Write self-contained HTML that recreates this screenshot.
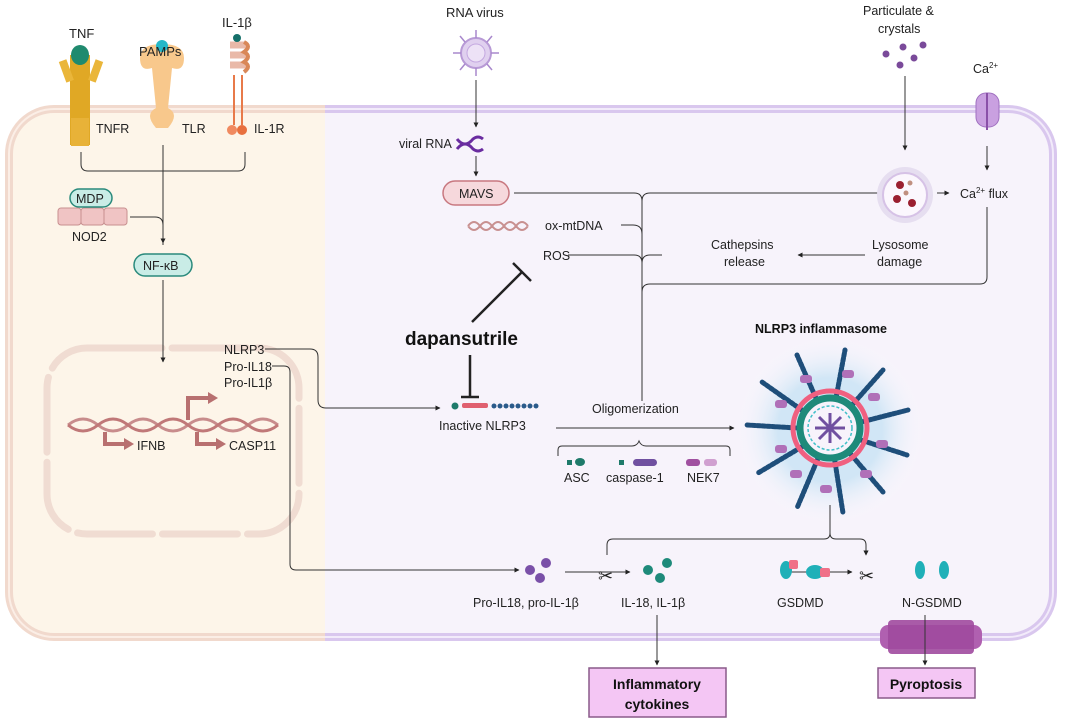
<!DOCTYPE html>
<html><head><meta charset="utf-8"><style>
html,body{margin:0;padding:0;background:#fff;}
svg{display:block;font-family:"Liberation Sans",sans-serif;}
text{fill:#222;}
</style></head><body>
<svg width="1065" height="722" viewBox="0 0 1065 722" xmlns="http://www.w3.org/2000/svg" font-size="12.5">
<defs>
<marker id="a" viewBox="0 0 10 10" refX="9" refY="5" markerWidth="5" markerHeight="5" orient="auto"><path d="M0,0L10,5L0,10z" fill="#222"/></marker>
<clipPath id="cl"><rect x="0" y="0" width="325" height="722"/></clipPath>
<clipPath id="cr"><rect x="325" y="0" width="740" height="722"/></clipPath>
<radialGradient id="glow"><stop offset="0.55" stop-color="#a8d8f0" stop-opacity="0.8"/><stop offset="1" stop-color="#fff" stop-opacity="0"/></radialGradient>
</defs>
<g clip-path="url(#cr)">
<rect x="9" y="109" width="1044" height="528" rx="45" fill="#f7f3fb" stroke="#d9c7ee" stroke-width="8"/>
<rect x="9" y="109" width="1044" height="528" rx="45" fill="none" stroke="#f2ebfa" stroke-width="2"/>
</g>
<g clip-path="url(#cl)">
<rect x="9" y="109" width="1044" height="528" rx="45" fill="#fdf5e9" stroke="#f1d9cd" stroke-width="8"/>
<rect x="9" y="109" width="1044" height="528" rx="45" fill="none" stroke="#fbeee6" stroke-width="2"/>
</g>
<rect x="47" y="348" width="252" height="186" rx="40" fill="none" stroke="#f0dcd2" stroke-width="7" stroke-dasharray="75 10" stroke-linecap="round"/>

<g>
<rect x="70" y="55" width="20" height="90" fill="#e0a825"/>
<rect x="62" y="60" width="8" height="22" fill="#eab63a" transform="rotate(-20 66 70)"/>
<rect x="92" y="60" width="8" height="22" fill="#eab63a" transform="rotate(20 96 70)"/>
<ellipse cx="80" cy="55" rx="9" ry="10" fill="#1f8a6e"/>
<rect x="71" y="118" width="18" height="28" fill="#e8b238"/>
</g>
<g>
<path d="M140 58 q0-14 22-14 q22 0 22 14 q0 14-12 10 l-4 40 q12 6 0 20 h-12 q-12-14 0-20 l-4-40 q-12 4-12-10z" fill="#f8c88c"/>
<circle cx="162" cy="46" r="6" fill="#25b8c8"/>
</g>
<g>
<path d="M230 45 h16 M230 55 h16 M230 65 h16" stroke="#e9b9a8" stroke-width="7" fill="none"/>
<path d="M244 42 q8 4 0 10 q8 4 0 10 q8 4 0 10" stroke="#d98858" stroke-width="4" fill="none"/>
<line x1="234" y1="75" x2="234" y2="125" stroke="#e87a4a" stroke-width="2"/>
<line x1="242" y1="75" x2="242" y2="125" stroke="#e87a4a" stroke-width="2"/>
<circle cx="232" cy="130" r="5" fill="#f08a60"/><circle cx="242" cy="130" r="5" fill="#e8703f"/>
<circle cx="237" cy="38" r="4" fill="#15706a"/>
</g>
<text x="69" y="38" font-size="13">TNF</text>
<text x="139" y="56" font-size="13">PAMPs</text>
<text x="222" y="27" font-size="13">IL-1β</text>
<text x="96" y="133">TNFR</text><text x="182" y="133">TLR</text><text x="254" y="133">IL-1R</text>

<path d="M81 152 v12 q0 7 7 7 h150 q7 0 7-7 v-12 M163 145 v100" stroke="#333" fill="none" stroke-width="1"/>
<path d="M163 230 v13" stroke="#333" marker-end="url(#a)"/>
<path d="M130 217 h25 q8 0 8 8" stroke="#333" fill="none"/>
<rect x="58" y="208" width="23" height="17" rx="3" fill="#f0c4c4" stroke="#c89090"/>
<rect x="81" y="208" width="23" height="17" rx="3" fill="#f0c4c4" stroke="#c89090"/>
<rect x="104" y="208" width="23" height="17" rx="3" fill="#f0c4c4" stroke="#c89090"/>
<rect x="70" y="189" width="42" height="18" rx="9" fill="#c9ece6" stroke="#2a8a7c" stroke-width="1.5"/>
<text x="76" y="203">MDP</text>
<text x="72" y="241">NOD2</text>
<rect x="134" y="254" width="58" height="22" rx="11" fill="#c9ece6" stroke="#2a8a7c" stroke-width="1.5"/>
<text x="143" y="270">NF-κB</text>
<path d="M163 280 v82" stroke="#333" marker-end="url(#a)"/>

<path d="M68 425 q15 -12 30 0 t30 0 t30 0 t30 0 t30 0 t30 0 t30 0" stroke="#c88c8c" stroke-width="3" fill="none"/>
<path d="M68 425 q15 12 30 0 t30 0 t30 0 t30 0 t30 0 t30 0 t30 0" stroke="#c07878" stroke-width="3" fill="none"/>
<path d="M188 420 v-22 h22" stroke="#b87070" stroke-width="4" fill="none"/><path d="M208 392 l10 6 l-10 6z" fill="#b87070"/>
<path d="M105 432 v12 h20" stroke="#b87070" stroke-width="4" fill="none"/><path d="M124 438 l10 6 l-10 6z" fill="#b87070"/>
<path d="M197 432 v12 h20" stroke="#b87070" stroke-width="4" fill="none"/><path d="M216 438 l10 6 l-10 6z" fill="#b87070"/>
<text x="224" y="354">NLRP3</text><text x="224" y="371">Pro-IL18</text><text x="224" y="387">Pro-IL1β</text>
<text x="137" y="450">IFNB</text><text x="229" y="450">CASP11</text>
<path d="M265 349 h45 q8 0 8 8 v43 q0 8 8 8 h114" stroke="#333" fill="none" marker-end="url(#a)"/>
<path d="M272 366 h12 q6 0 6 6 v192 q0 6 6 6 h223" stroke="#333" fill="none" marker-end="url(#a)"/>

<text x="446" y="17" font-size="13">RNA virus</text>
<circle cx="476" cy="53" r="15" fill="#e0d0ef" stroke="#b89ad6" stroke-width="2"/>
<circle cx="476" cy="53" r="9" fill="#ede2f6" stroke="#c4a8e0"/>
<g stroke="#a888cc" stroke-width="1.5"><line x1="476" y1="38" x2="476" y2="30"/><line x1="476" y1="68" x2="476" y2="76"/><line x1="461" y1="53" x2="453" y2="53"/><line x1="491" y1="53" x2="499" y2="53"/><line x1="465" y1="42" x2="460" y2="36"/><line x1="487" y1="42" x2="492" y2="36"/><line x1="465" y1="64" x2="460" y2="70"/><line x1="487" y1="64" x2="492" y2="70"/></g>
<path d="M476 80 v47" stroke="#333" marker-end="url(#a)"/>
<text x="399" y="148">viral RNA</text>
<path d="M457 139 q8 10 16 0 q5-4 10 0 M457 149 q8-10 16 0 q5 4 10 0" stroke="#6a2ca0" stroke-width="3" fill="none"/>
<path d="M476 156 v20" stroke="#333" marker-end="url(#a)"/>
<rect x="443" y="181" width="66" height="24" rx="12" fill="#f6d8dc" stroke="#c87880" stroke-width="1.5"/>
<text x="459" y="198">MAVS</text>
<path d="M468 226 q6-8 12 0 t12 0 t12 0 t12 0 t12 0 M468 226 q6 8 12 0 t12 0 t12 0 t12 0 t12 0" stroke="#c89090" stroke-width="2" fill="none"/>
<text x="545" y="230">ox-mtDNA</text>
<text x="543" y="260">ROS</text>

<path d="M514 193 h120 q8 0 8 8 M642 201 q0-8 8-8 h275" stroke="#333" fill="none"/>
<path d="M621 225 h12 q9 0 9 9 M568 255 h66 q8 0 8 8 M642 263 q0-8 8-8 h12" stroke="#333" fill="none"/>
<path d="M642 201 v200" stroke="#333" fill="none"/>
<path d="M642 292 q0-8 8-8 h330 q7 0 7-7 v-70" stroke="#333" fill="none"/>
<path d="M865 255 h-67" stroke="#333" marker-end="url(#a)"/>
<text x="711" y="249">Cathepsins</text><text x="724" y="266">release</text>
<text x="872" y="249">Lysosome</text><text x="877" y="266">damage</text>
<text x="863" y="15">Particulate &amp;</text><text x="878" y="33">crystals</text>
<g fill="#7a4a9a"><circle cx="886" cy="54" r="3.5"/><circle cx="903" cy="47" r="3.5"/><circle cx="923" cy="45" r="3.5"/><circle cx="914" cy="58" r="3.5"/><circle cx="900" cy="65" r="3.5"/></g>
<path d="M905 76 v74" stroke="#333" marker-end="url(#a)"/>
<circle cx="905" cy="195" r="28" fill="#e6def0"/>
<circle cx="905" cy="195" r="22" fill="#fbf7fd" stroke="#d6c2e6" stroke-width="2"/>
<g fill="#9a2030"><circle cx="900" cy="185" r="4"/><circle cx="897" cy="199" r="4"/><circle cx="912" cy="203" r="4"/><circle cx="910" cy="183" r="2.5" fill="#c09080"/><circle cx="906" cy="193" r="2.5" fill="#c09080"/></g>
<path d="M937 193 h12" stroke="#333" marker-end="url(#a)"/>
<text x="960" y="198">Ca<tspan font-size="8" dy="-5">2+</tspan><tspan dy="5"> flux</tspan></text>
<text x="973" y="73">Ca<tspan font-size="8" dy="-5">2+</tspan></text>
<rect x="976" y="93" width="23" height="34" rx="10" fill="#c9a0e0" stroke="#a070c0"/>
<line x1="987" y1="93" x2="987" y2="130" stroke="#8a50a8" stroke-width="2"/>
<path d="M987 146 v24" stroke="#333" marker-end="url(#a)"/>

<path d="M472 322 L522 272" stroke="#222" stroke-width="2.5"/>
<path d="M513 263 L531 281" stroke="#222" stroke-width="2.5"/>
<text x="405" y="345" font-size="19" font-weight="bold" style="fill:#111">dapansutrile</text>
<path d="M470 355 v42 M461 397 h18" stroke="#222" stroke-width="2.5"/>
<circle cx="455" cy="406" r="3.5" fill="#1e7a6a"/>
<rect x="462" y="403" width="26" height="5" rx="2" fill="#e06070"/>
<g fill="#2a5a8a"><circle cx="494" cy="406" r="2.5"/><circle cx="500" cy="406" r="2.5"/><circle cx="506" cy="406" r="2.5"/><circle cx="512" cy="406" r="2.5"/><circle cx="518" cy="406" r="2.5"/><circle cx="524" cy="406" r="2.5"/><circle cx="530" cy="406" r="2.5"/><circle cx="536" cy="406" r="2.5"/></g>
<text x="439" y="430">Inactive NLRP3</text>
<text x="592" y="413">Oligomerization</text>
<path d="M556 428 h178" stroke="#333" marker-end="url(#a)"/>
<path d="M558 456 v-6 q0-4 4-4 h70 q5 0 7-5 q2 5 7 5 h80 q4 0 4 4 v6" stroke="#333" fill="none"/>
<rect x="567" y="460" width="5" height="5" fill="#1e7a6a"/><ellipse cx="580" cy="462" rx="5" ry="4" fill="#1e7a6a"/>
<rect x="619" y="460" width="5" height="5" fill="#1e7a6a"/><rect x="633" y="459" width="24" height="7" rx="3.5" fill="#7050a0"/>
<rect x="686" y="459" width="14" height="7" rx="3" fill="#a050a0"/><rect x="704" y="459" width="13" height="7" rx="3" fill="#d0a0d0"/>
<text x="564" y="482">ASC</text><text x="606" y="482">caspase-1</text><text x="687" y="482">NEK7</text>

<text x="755" y="333" font-weight="bold" style="fill:#111">NLRP3 inflammasome</text>
<circle cx="830" cy="430" r="95" fill="url(#glow)" opacity="0.6"/>
<g stroke="#1e4e7a" stroke-width="5" stroke-linecap="round" stroke-dasharray="3 2">
<line x1="830" y1="430" x2="797" y2="355"/><line x1="830" y1="430" x2="845" y2="350"/><line x1="830" y1="430" x2="883" y2="370"/><line x1="830" y1="430" x2="908" y2="410"/><line x1="830" y1="430" x2="907" y2="455"/><line x1="830" y1="430" x2="883" y2="492"/><line x1="830" y1="430" x2="843" y2="513"/><line x1="830" y1="430" x2="797" y2="508"/><line x1="830" y1="430" x2="758" y2="473"/><line x1="830" y1="430" x2="747" y2="425"/><line x1="830" y1="430" x2="762" y2="382"/>
</g>
<g fill="#b070b8"><rect x="800" y="375" width="12" height="8" rx="3"/><rect x="842" y="370" width="12" height="8" rx="3"/><rect x="868" y="393" width="12" height="8" rx="3"/><rect x="876" y="440" width="12" height="8" rx="3"/><rect x="860" y="470" width="12" height="8" rx="3"/><rect x="820" y="485" width="12" height="8" rx="3"/><rect x="790" y="470" width="12" height="8" rx="3"/><rect x="775" y="445" width="12" height="8" rx="3"/><rect x="775" y="400" width="12" height="8" rx="3"/></g>
<circle cx="830" cy="428" r="37" fill="none" stroke="#f06080" stroke-width="5"/>
<circle cx="830" cy="428" r="30" fill="#f7f3fb" stroke="#1e8a7a" stroke-width="7"/>
<circle cx="830" cy="428" r="22" fill="none" stroke="#40c0c8" stroke-width="1.5" stroke-dasharray="3 2"/>
<g stroke="#7050a0" stroke-width="3"><line x1="815" y1="428" x2="845" y2="428"/><line x1="830" y1="413" x2="830" y2="443"/><line x1="819" y1="417" x2="841" y2="439"/><line x1="841" y1="417" x2="819" y2="439"/></g>

<path d="M830 505 v28 q0 6-6 6 h-211 q-6 0-6 6 v10 M830 533 q0 6 6 6 h24 q6 0 6 6 v10" stroke="#333" fill="none" marker-end="url(#a)"/>
<path d="M866 550 v5" stroke="#333" marker-end="url(#a)"/>
<g fill="#7a50a8"><circle cx="530" cy="570" r="5"/><circle cx="546" cy="563" r="5"/><circle cx="540" cy="578" r="5"/></g>
<path d="M565 572 h65" stroke="#333" marker-end="url(#a)"/>
<text x="598" y="582" font-size="18">✂</text>
<g fill="#1e8a7a"><circle cx="648" cy="570" r="5"/><circle cx="667" cy="563" r="5"/><circle cx="660" cy="578" r="5"/></g>
<path d="M782 572 h70" stroke="#333" marker-end="url(#a)"/>
<text x="859" y="582" font-size="18">✂</text>
<g fill="#20b0b8"><ellipse cx="786" cy="570" rx="6" ry="9"/><ellipse cx="815" cy="572" rx="9" ry="7"/><ellipse cx="920" cy="570" rx="5" ry="9"/><ellipse cx="944" cy="570" rx="5" ry="9"/></g>
<g fill="#f07088"><rect x="789" y="560" width="9" height="9" rx="2"/><rect x="820" y="568" width="10" height="9" rx="2"/></g>
<text x="473" y="607">Pro-IL18, pro-IL-1β</text>
<text x="621" y="607">IL-18, IL-1β</text>
<text x="777" y="607">GSDMD</text>
<text x="902" y="607">N-GSDMD</text>
<path d="M657 615 v50" stroke="#333" marker-end="url(#a)"/>
<rect x="880" y="625" width="102" height="24" rx="8" fill="#b060b0"/>
<rect x="888" y="620" width="86" height="34" rx="4" fill="#a04a9e" opacity="0.9"/>
<path d="M925 615 v50" stroke="#333" marker-end="url(#a)"/>
<rect x="589" y="668" width="137" height="49" fill="#f4c6f4" stroke="#8a5a8a" stroke-width="1.5"/>
<text x="657" y="689" text-anchor="middle" font-size="14" font-weight="bold" style="fill:#111">Inflammatory</text>
<text x="657" y="709" text-anchor="middle" font-size="14" font-weight="bold" style="fill:#111">cytokines</text>
<rect x="878" y="668" width="97" height="30" fill="#f4c6f4" stroke="#8a5a8a" stroke-width="1.5"/>
<text x="926" y="689" text-anchor="middle" font-size="14" font-weight="bold" style="fill:#111">Pyroptosis</text>
</svg>
</body></html>
